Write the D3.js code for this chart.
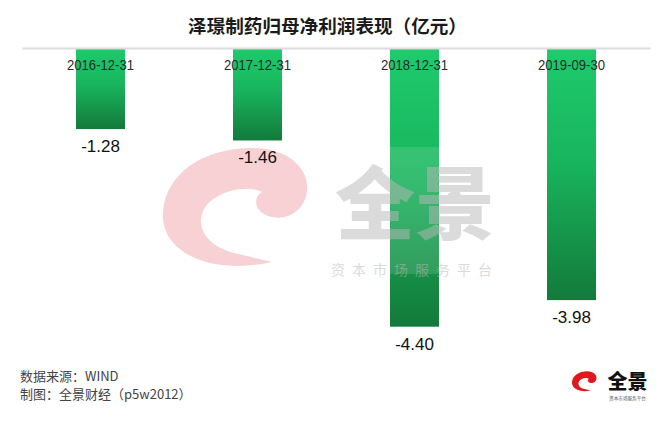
<!DOCTYPE html>
<html><head><meta charset="utf-8">
<script src="https://cdn.jsdelivr.net/npm/d3@7"></script>
<style>html,body{margin:0;padding:0;background:#fff;}svg{display:block;}</style>
</head><body>
<svg id="chart" width="659" height="435"></svg>
<script>
const title = "泽璟制药归母净利润表现（亿元）";
const categories = ["2016-12-31", "2017-12-31", "2018-12-31", "2019-09-30"];
const values = [-1.28, -1.46, -4.40, -3.98];
const footerLines = ["数据来源：WIND", "制图：全景财经（p5w2012）"];
const watermarkBig = "全景";
const watermarkSmall = "资本市场服务平台";

const svg = d3.select("#chart");
const W = 659, H = 435;
svg.append("rect").attr("width", W).attr("height", H).attr("fill", "#fff");

const defs = svg.append("defs");
const grad = defs.append("linearGradient").attr("id", "barGrad")
  .attr("x1", 0).attr("y1", 0).attr("x2", 0).attr("y2", 1);
grad.append("stop").attr("offset", "0%").attr("stop-color", "#1ecb6c");
grad.append("stop").attr("offset", "45%").attr("stop-color", "#18b55d");
grad.append("stop").attr("offset", "100%").attr("stop-color", "#137a3b");

const x = d3.scaleBand().domain(categories).range([22, 650])
  .paddingInner(0.688).paddingOuter(0.344);
const y = d3.scaleLinear().domain([0, -4.4]).range([48, 326.7]);

// title
svg.append("text").attr("x", 327.5).attr("y", 32.5).attr("text-anchor", "middle")
  .attr("font-family", "'Noto Sans CJK SC', sans-serif").attr("font-weight", 700)
  .attr("font-size", 18.6).attr("fill", "#1a1a1a").text(title);

// watermark swirl shape
const swirl = "M 272,262 C 215,275 160,255 163,212 C 166,172 205,148 252,148 C 290,148 310,170 307,192 C 304,212 285,222 268,216 C 255,211 252,198 262,192 C 250,186 228,188 212,200 C 195,213 195,240 230,252 Z";
svg.append("path").attr("d", swirl).attr("fill", "#f7c9ce").attr("opacity", 0.85);

// bars
svg.append("g").selectAll("rect").data(values).join("rect")
  .attr("x", (d, i) => x(categories[i]))
  .attr("y", d => y(0))
  .attr("width", x.bandwidth())
  .attr("height", d => y(d) - y(0))
  .attr("fill", "url(#barGrad)");

// watermark text over bars
const wm = svg.append("g");
wm.append("rect").attr("x", 326).attr("y", 147).attr("width", 178).attr("height", 127)
  .attr("fill", "#fff").attr("opacity", 0.13);
wm.append("text").attr("x", 415).attr("y", 233).attr("text-anchor", "middle")
  .attr("font-family", "'Noto Sans CJK SC', sans-serif").attr("font-weight", 900)
  .attr("font-size", 80).attr("fill", "#b8b8b8").attr("opacity", 0.5).text(watermarkBig);
wm.append("text").attr("x", 415).attr("y", 275).attr("text-anchor", "middle")
  .attr("font-family", "'Noto Sans CJK SC', sans-serif")
  .attr("font-size", 14).attr("letter-spacing", 7).attr("fill", "#b8b8b8").attr("opacity", 0.5)
  .text(watermarkSmall);

// axis
const axis = svg.append("g").attr("transform", `translate(0,${y(0)})`)
  .call(d3.axisBottom(x).tickSize(0).tickSizeOuter(0).tickPadding(11));
axis.select(".domain").attr("stroke", "#dcdcdc").attr("stroke-width", 2);
axis.selectAll(".tick text")
  .attr("font-family", "'Liberation Sans', Arial, sans-serif")
  .attr("font-size", 15).attr("fill", "#2a2a2a")
  .attr("textLength", 67).attr("lengthAdjust", "spacingAndGlyphs");

// value labels
svg.append("g").selectAll("text").data(values).join("text")
  .attr("x", (d, i) => x(categories[i]) + x.bandwidth() / 2)
  .attr("y", d => y(d) + 23)
  .attr("text-anchor", "middle")
  .attr("font-family", "'Liberation Sans', Arial, sans-serif")
  .attr("font-size", 17).attr("fill", "#111")
  .text(d => d.toFixed(2));

// footer
svg.append("g").selectAll("text").data(footerLines).join("text")
  .attr("x", 20).attr("y", (d, i) => 381 + i * 18)
  .attr("font-family", "'Noto Sans CJK SC', sans-serif")
  .attr("font-size", 13).attr("fill", "#444").text(d => d);

// bottom-right logo
svg.append("path").attr("d", swirl).attr("fill", "#e0181e")
  .attr("transform", "translate(544.3,346) scale(0.17)");
svg.append("text").attr("x", 627.5).attr("y", 389).attr("text-anchor", "middle")
  .attr("font-family", "'Noto Sans CJK SC', sans-serif").attr("font-weight", 900)
  .attr("font-size", 20).attr("fill", "#111").text(watermarkBig);
svg.append("text").attr("x", 627.5).attr("y", 400).attr("text-anchor", "middle")
  .attr("font-family", "'Noto Sans CJK SC', sans-serif")
  .attr("font-size", 4.6).attr("fill", "#555").text(watermarkSmall);
</script>
</body></html>
